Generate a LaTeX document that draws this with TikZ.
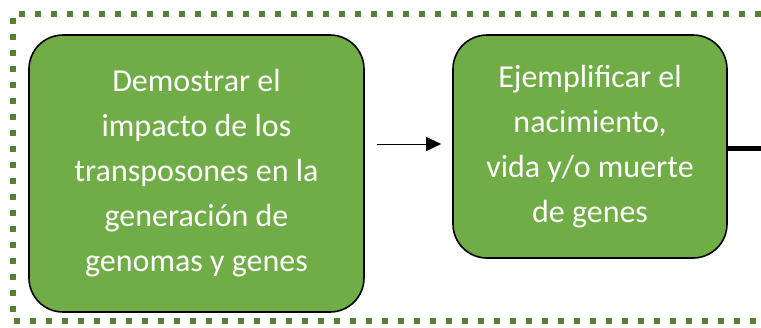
\documentclass[tikz,border=0pt]{standalone}
\usepackage{fontspec}
\setmainfont{Carlito}
\usetikzlibrary{arrows.meta}
\definecolor{boxgreen}{HTML}{70AD47}
\definecolor{dotgreen}{HTML}{548235}
\begin{document}
\begin{tikzpicture}[x=1pt,y=1pt,
  goal/.style={draw=black,line width=1.6pt,fill=boxgreen,rounded corners=34pt,
    text=white,align=center,inner sep=0pt,
    font=\fontsize{32}{45}\selectfont},
  frame/.style={dotgreen,line width=5.5pt,dash pattern=on 6pt off 10pt}]
\useasboundingbox (0,0) rectangle (761,-327);
\draw[frame] (761,-14) -- (13,-14) -- (13,-321) -- (761,-321);
\node[goal,minimum width=335pt,minimum height=277pt] (box1) at (196.5,-173.5)
  {Demostrar el\\impacto de los\\transposones en la\\generación de\\genomas y genes};
\node[goal,minimum width=274pt,minimum height=223pt] (box2) at (590,-146.5)
  {Ejemplificar el\\nacimiento,\\vida y/o muerte\\de genes};
\coordinate (endc) at (770,-148);
\draw[line width=1pt,-{Triangle[length=15pt,width=14pt]},shorten <=12pt,shorten >=11pt]
  (box1.east |- 0,-144) -- (box2.west |- 0,-144);
\draw[line width=5pt] (box2.east |- endc) -- (endc);
\end{tikzpicture}
\end{document}
